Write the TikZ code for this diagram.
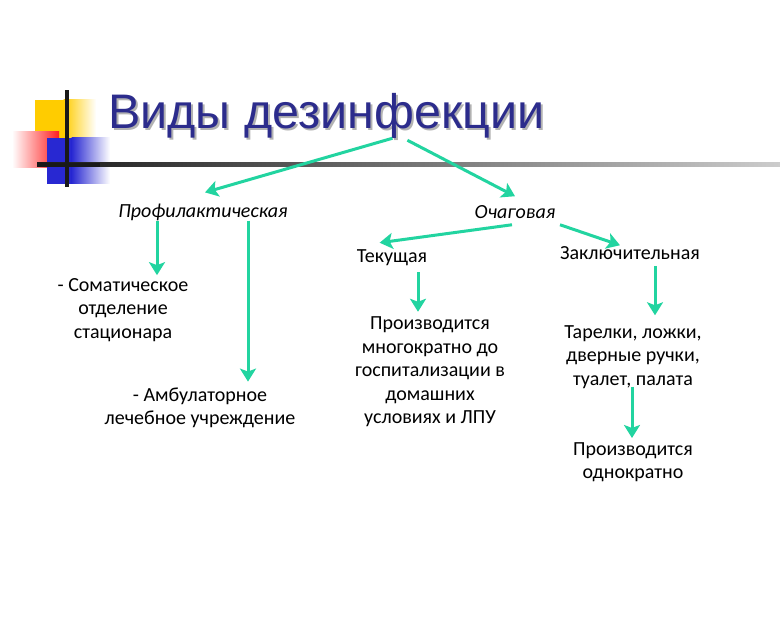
\documentclass[tikz,border=0pt]{standalone}
\usepackage{fontspec}
\setmainfont{Carlito}
\newfontfamily\titlefont{Liberation Sans}
\usetikzlibrary{arrows.meta,calc}
\definecolor{teal1}{RGB}{34,212,160}
\definecolor{titleblue}{RGB}{44,44,140}
\definecolor{decoyellow}{RGB}{255,204,0}
\definecolor{decored}{RGB}{255,30,30}
\definecolor{decoblue}{RGB}{40,40,210}
\tikzset{
  arr/.style={draw=teal1, line width=3bp, -{Stealth[length=13bp,width=16bp,inset=3bp]}},
  lbl/.style={inner sep=0pt, font=\fontsize{20bp}{23.5bp}\selectfont, align=center, text=black},
  ilbl/.style={lbl, font=\fontsize{20bp}{23.5bp}\selectfont\itshape},
  ttl/.style={inner sep=0pt, anchor=base west, font=\titlefont\fontsize{48.5bp}{50bp}\selectfont},
}
\begin{document}
\begin{tikzpicture}[x=1bp,y=-1bp]
\useasboundingbox (0,0) rectangle (780,630);
\fill[white] (0,0) rectangle (780,630);
% decoration
\fill[decoyellow] (35,100) rectangle (64,140);
\shade[left color=decoyellow, right color=white] (63.5,100) rectangle (96,140);
\shade[left color=white, right color=decored] (12,132) rectangle (59,168);
\fill[decoblue] (47,138) rectangle (72,184);
\shade[left color=decoblue, right color=white] (71.5,138) rectangle (110,184);
\shade[left color=black!90, right color=black!20] (37,163) rectangle (780,167);
\fill[black!90] (37,163) rectangle (100,167);
\fill[black!90] (64.5,90) rectangle (68.5,187);
% title with shadow
\node (shadow) [ttl, text=black!30] at (110,131) {Виды дезинфекции};
\node (title) [ttl, text=titleblue] at (108,129) {Виды дезинфекции};
% labels
\node (prof) [ilbl] at (203,212) {Профилактическая};
\node (ochag) [ilbl] at (515,212) {Очаговая};
\node (tek) [lbl] at (392,258) {Текущая};
\node (zakl) [lbl] at (630,253) {Заключительная};
\node (somat) [lbl] at (123,310) {- Соматическое\\отделение\\стационара};
\node (ambul) [lbl] at (200,408) {- Амбулаторное\\лечебное учреждение};
\node (pr1) [lbl] at (430,372) {Производится\\многократно до\\госпитализации в\\домашних\\условиях и ЛПУ};
\node (tarel) [lbl] at (633,357) {Тарелки, ложки,\\дверные ручки,\\туалет, палата};
\node (pr2) [lbl] at (633,462) {Производится\\однократно};
% helper x positions
\coordinate (xa) at (157,0);
\coordinate (xb) at (248,0);
\coordinate (xc) at (418,0);
\coordinate (xd) at (655,0);
\coordinate (xe) at (632,0);
% arrows
\draw[arr] ($(title.south)+(66,-1)$) -- ($(prof.north)+(2,-11)$);
\draw[arr] ($(title.south)+(81,1)$) -- ($(ochag.north)+(0,-9)$);
\draw[arr] (prof.south -| xa) -- ($(somat.north -| xa)+(0,-3)$);
\draw[arr] (prof.south -| xb) -- ($(ambul.north -| xb)+(0,-6)$);
\draw[arr] ($(ochag.south)+(-3,6)$) -- ($(tek.north west)+(23,-7)$);
\draw[arr] ($(ochag.south)+(45,6)$) -- ($(zakl.north west)+(60,-1)$);
\draw[arr] ($(tek.south -| xc)+(0,6)$) -- ($(pr1.north -| xc)+(0,-5)$);
\draw[arr] ($(zakl.south -| xd)+(0,6)$) -- ($(tarel.north -| xd)+(0,-10)$);
\draw[arr] ($(tarel.south -| xe)+(0,-2)$) -- ($(pr2.north -| xe)+(0,-4)$);
\end{tikzpicture}
\end{document}
